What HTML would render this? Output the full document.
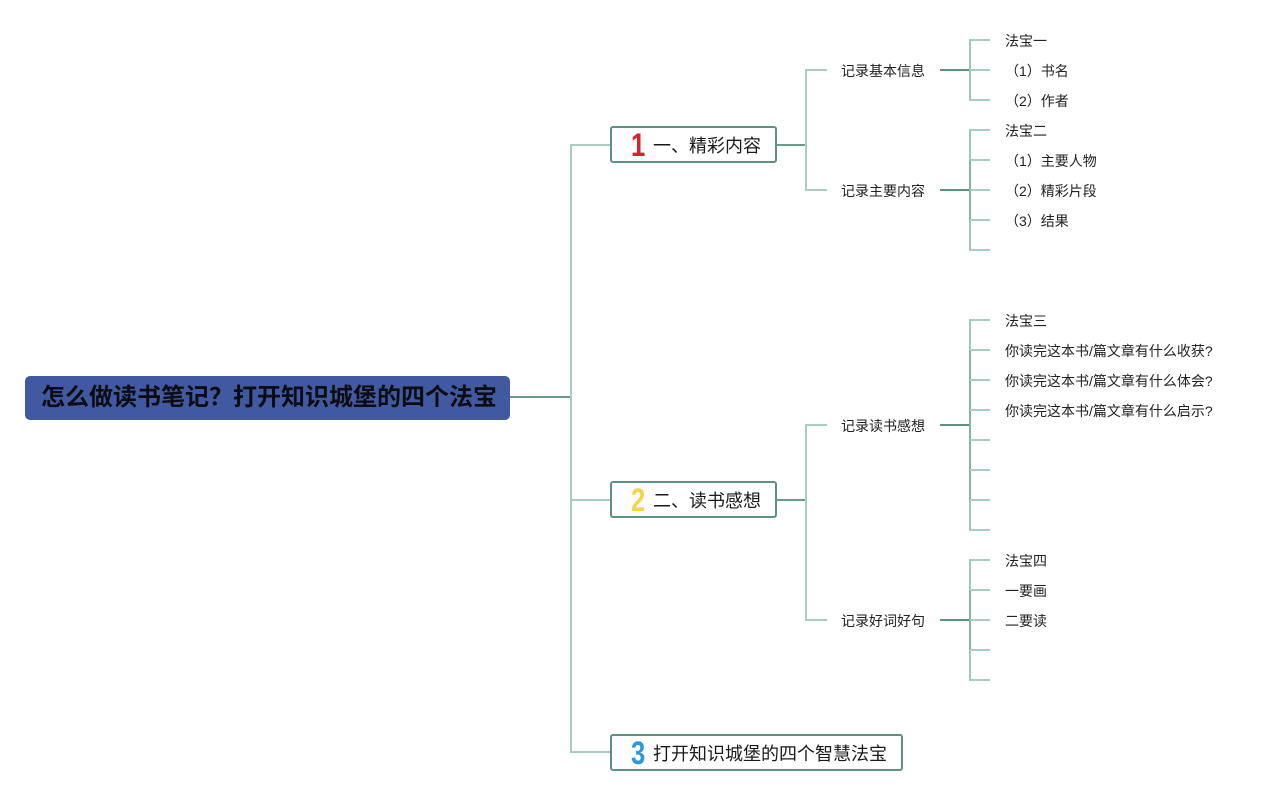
<!DOCTYPE html>
<html><head><meta charset="utf-8">
<style>
html,body{margin:0;padding:0;background:#fff;}
body{width:1279px;height:796px;position:relative;overflow:hidden;font-family:"Liberation Sans","Noto Sans CJK SC",sans-serif;}
svg{position:absolute;left:0;top:0;}
.t{position:absolute;white-space:nowrap;color:#222;}
.leaf{font-size:14px;line-height:20px;}
.sub{font-size:14px;line-height:20px;}
.root{position:absolute;left:25px;top:376px;width:485px;height:44px;background:#4159a0;border-radius:5px;box-sizing:border-box;}
.root span{position:absolute;left:16px;top:8px;font-size:24px;font-weight:bold;color:#0c0c14;line-height:28px;}
.box{position:absolute;box-sizing:border-box;border:2px solid #5e9184;border-radius:3px;background:#fff;}
.box .n{position:absolute;left:19px;top:-1px;font-size:32px;font-weight:bold;line-height:36px;transform:scaleX(0.8);transform-origin:left center;}
.box .l{position:absolute;left:41px;top:6px;font-size:18px;line-height:24px;color:#1a1a1a;}
</style></head><body>
<svg width="1279" height="796" viewBox="0 0 1279 796">
<g fill="none" stroke-width="2">
<line x1="510" y1="397" x2="571" y2="397" stroke="#6a9c8e"/>
<line x1="571" y1="144" x2="571" y2="753" stroke="#a9cdc2"/>
<polyline points="611,145 571,145" stroke="#a9cdc2"/>
<polyline points="611,500 571,500" stroke="#a9cdc2"/>
<polyline points="611,752 571,752" stroke="#a9cdc2"/>
<line x1="776" y1="145" x2="806" y2="145" stroke="#6a9c8e"/>
<line x1="806" y1="69" x2="806" y2="191" stroke="#a9cdc2"/>
<line x1="806" y1="70" x2="827" y2="70" stroke="#a9cdc2"/>
<line x1="806" y1="190" x2="827" y2="190" stroke="#a9cdc2"/>
<line x1="776" y1="500" x2="806" y2="500" stroke="#6a9c8e"/>
<line x1="806" y1="424" x2="806" y2="621" stroke="#a9cdc2"/>
<line x1="806" y1="425" x2="827" y2="425" stroke="#a9cdc2"/>
<line x1="806" y1="620" x2="827" y2="620" stroke="#a9cdc2"/>
<line x1="940" y1="70" x2="970" y2="70" stroke="#5e9184"/>
<line x1="970" y1="39" x2="970" y2="101" stroke="#a0c6ba"/>
<line x1="940" y1="190" x2="970" y2="190" stroke="#5e9184"/>
<line x1="970" y1="129" x2="970" y2="251" stroke="#a0c6ba"/>
<line x1="970" y1="160" x2="970" y2="220" stroke="#86b2a5"/>
<line x1="940" y1="425" x2="970" y2="425" stroke="#5e9184"/>
<line x1="970" y1="319" x2="970" y2="531" stroke="#a0c6ba"/>
<line x1="970" y1="350" x2="970" y2="500" stroke="#86b2a5"/>
<line x1="940" y1="620" x2="970" y2="620" stroke="#5e9184"/>
<line x1="970" y1="559" x2="970" y2="681" stroke="#a0c6ba"/>
<line x1="970" y1="590" x2="970" y2="650" stroke="#86b2a5"/>
<g stroke="#a9cdc2">
<line x1="970" y1="40" x2="990" y2="40"/><line x1="970" y1="70" x2="990" y2="70"/><line x1="970" y1="100" x2="990" y2="100"/>
<line x1="970" y1="130" x2="990" y2="130"/><line x1="970" y1="160" x2="990" y2="160"/><line x1="970" y1="190" x2="990" y2="190"/><line x1="970" y1="220" x2="990" y2="220"/><line x1="970" y1="250" x2="990" y2="250"/>
<line x1="970" y1="320" x2="990" y2="320"/><line x1="970" y1="350" x2="990" y2="350"/><line x1="970" y1="380" x2="990" y2="380"/><line x1="970" y1="410" x2="990" y2="410"/><line x1="970" y1="440" x2="990" y2="440"/><line x1="970" y1="470" x2="990" y2="470"/><line x1="970" y1="500" x2="990" y2="500"/><line x1="970" y1="530" x2="990" y2="530"/>
<line x1="970" y1="560" x2="990" y2="560"/><line x1="970" y1="590" x2="990" y2="590"/><line x1="970" y1="620" x2="990" y2="620"/><line x1="970" y1="650" x2="990" y2="650"/><line x1="970" y1="680" x2="990" y2="680"/>
</g>
</g>
</svg>

<div class="root"><span>怎么做读书笔记？打开知识城堡的四个法宝</span></div>

<div class="box" style="left:610px;top:126px;width:167px;height:37px;"><span class="n" style="color:#d8202e;">1</span><span class="l">一、精彩内容</span></div>
<div class="box" style="left:610px;top:481px;width:167px;height:37px;"><span class="n" style="color:#f3d54a;">2</span><span class="l">二、读书感想</span></div>
<div class="box" style="left:610px;top:734px;width:293px;height:37px;"><span class="n" style="color:#2a98df;">3</span><span class="l">打开知识城堡的四个智慧法宝</span></div>

<div class="t sub" style="left:841px;top:61px;">记录基本信息</div>
<div class="t sub" style="left:841px;top:181px;">记录主要内容</div>
<div class="t sub" style="left:841px;top:416px;">记录读书感想</div>
<div class="t sub" style="left:841px;top:611px;">记录好词好句</div>

<div class="t leaf" style="left:1005px;top:31px;">法宝一</div>
<div class="t leaf" style="left:1005px;top:61px;">（1）书名</div>
<div class="t leaf" style="left:1005px;top:91px;">（2）作者</div>
<div class="t leaf" style="left:1005px;top:121px;">法宝二</div>
<div class="t leaf" style="left:1005px;top:151px;">（1）主要人物</div>
<div class="t leaf" style="left:1005px;top:181px;">（2）精彩片段</div>
<div class="t leaf" style="left:1005px;top:211px;">（3）结果</div>
<div class="t leaf" style="left:1005px;top:311px;">法宝三</div>
<div class="t leaf" style="left:1005px;top:341px;">你读完这本书/篇文章有什么收获?</div>
<div class="t leaf" style="left:1005px;top:371px;">你读完这本书/篇文章有什么体会?</div>
<div class="t leaf" style="left:1005px;top:401px;">你读完这本书/篇文章有什么启示?</div>
<div class="t leaf" style="left:1005px;top:551px;">法宝四</div>
<div class="t leaf" style="left:1005px;top:581px;">一要画</div>
<div class="t leaf" style="left:1005px;top:611px;">二要读</div>
</body></html>
